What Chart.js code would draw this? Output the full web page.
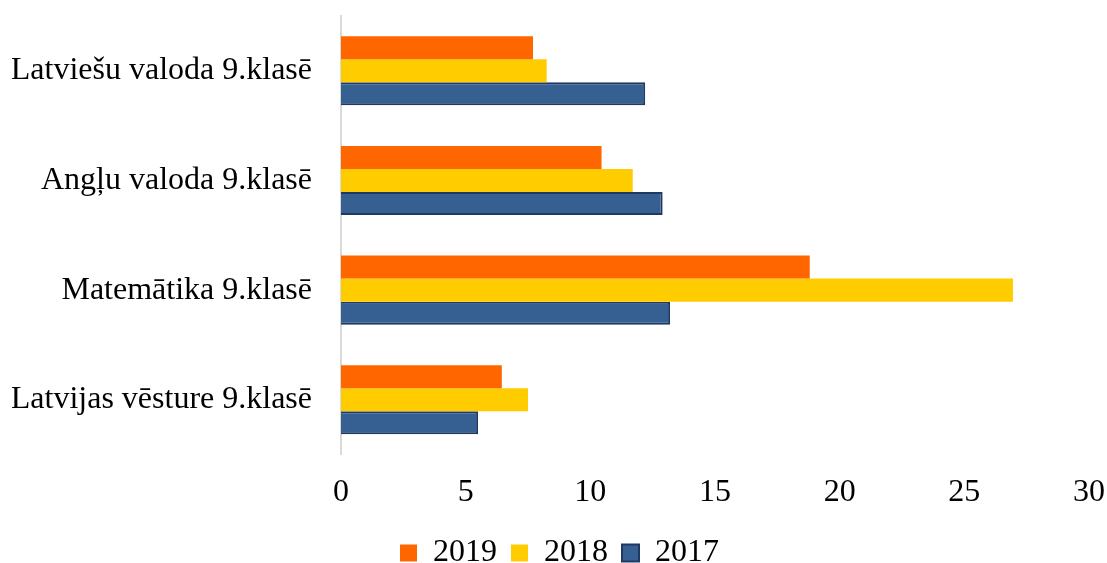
<!DOCTYPE html>
<html>
<head>
<meta charset="utf-8">
<script src="https://cdn.jsdelivr.net/npm/chart.js@4"></script>
<style>
    html, body { margin: 0; padding: 0; background: #fff; }
    #wrap { width: 1107px; height: 563px; }
</style>
</head>
<body>
<div id="wrap"><canvas id="chart"></canvas></div>
<script>
const subjects = ['Latviešu valoda 9.klasē', 'Angļu valoda 9.klasē', 'Matemātika 9.klasē', 'Latvijas vēsture 9.klasē'];
const years = ['2019', '2018', '2017'];
const values_2019 = [7.7, 10.45, 18.8, 6.45];
const values_2018 = [8.25, 11.7, 26.95, 7.5];
const values_2017 = [12.2, 12.9, 13.2, 5.5];
const x_ticks = [0, 5, 10, 15, 20, 25, 30];

const serif = "'Liberation Serif', 'Times New Roman', serif";
const left_pad = 12;

document.addEventListener("DOMContentLoaded", function() {
    const ctx = document.getElementById('chart');

    new Chart(ctx, {
        type: 'bar',
        data: {
            labels: subjects,
            datasets: [{
                    label: years[0],
                    data: values_2019,
                    backgroundColor: '#ff6600',
                    borderWidth: 0
                },
                {
                    label: years[1],
                    data: values_2018,
                    backgroundColor: '#ffcc00',
                    borderWidth: 0
                },
                {
                    label: years[2],
                    data: values_2017,
                    backgroundColor: '#366092',
                    borderColor: '#1f3864',
                    borderWidth: 2
                },
            ]
        },
        options: {
            indexAxis: 'y',
            responsive: true,
            maintainAspectRatio: false,
            animation: false,
            categoryPercentage: 0.63,
            barPercentage: 1.0,
            layout: {
                padding: { top: 16, right: 0, left: left_pad, bottom: -16 }
            },
            plugins: {
                tooltip: { enabled: false },
                legend: {
                    position: 'bottom',
                    labels: {
                        color: '#000',
                        boxWidth: 17,
                        boxHeight: 17,
                        padding: 14,
                        font: { family: serif, size: 32 }
                    }
                }
            },
            scales: {
                x: {
                    min: 0,
                    max: 30,
                    afterBuildTicks: function(axis) {
                        axis.ticks = x_ticks.map(v => ({ value: v }));
                    },
                    afterFit: function(axis) {
                        // keep only half of the "30" label as room on the right
                        axis.paddingRight = 18;
                    },
                    grid: { display: false },
                    border: { display: false },
                    ticks: {
                        color: '#000',
                        padding: 11,
                        font: { family: serif, size: 32 }
                    }
                },
                y: {
                    afterFit: function(axis) {
                        // labels sit in the middle of each band, no extra room above/below
                        axis.paddingTop = 0;
                        axis.paddingBottom = 0;
                        axis.width = 341 - left_pad;
                    },
                    grid: { display: false },
                    border: { display: true, color: '#d9d9d9', width: 2 },
                    ticks: {
                        color: '#000',
                        padding: 21,
                        font: { family: serif, size: 32 }
                    }
                }
            }
        }
    });
});
</script>
</body>
</html>
